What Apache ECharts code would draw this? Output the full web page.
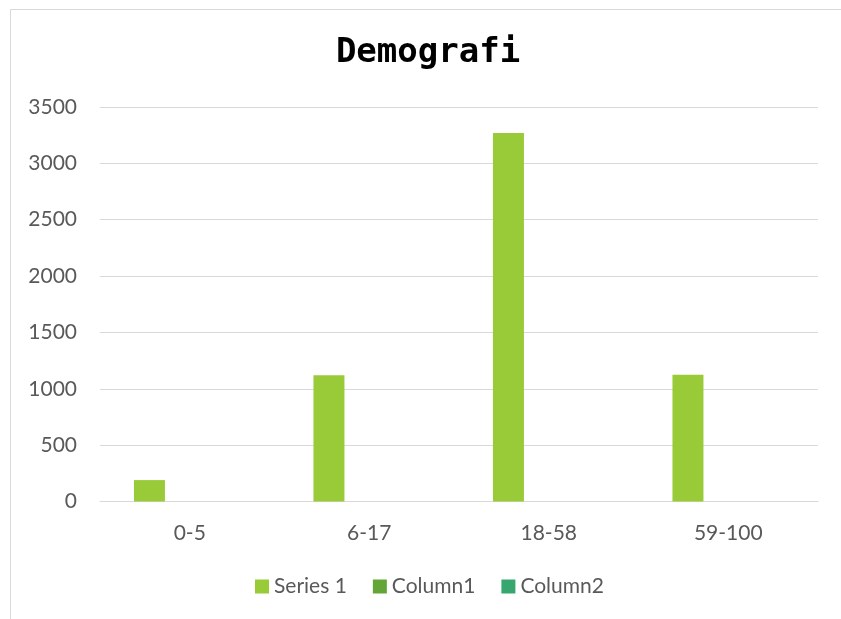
<!DOCTYPE html>
<html>
<head>
<meta charset="utf-8">
<script src="https://cdn.jsdelivr.net/npm/echarts@6/dist/echarts.min.js"></script>
<style>
html,body{margin:0;padding:0;background:#fff;}
#c{width:841px;height:619px;}
</style>
</head>
<body>
<div id="c"></div>
<script>
var categories = ['0-5', '6-17', '18-58', '59-100'];
var series1 = [190, 1120, 3270, 1125];
var column1 = [null, null, null, null];
var column2 = [null, null, null, null];
var seriesNames = ['Series 1', 'Column1', 'Column2'];
var colors = ['#99CB38', '#63A537', '#37A76F'];

var chart = echarts.init(document.getElementById('c'), null, {renderer: 'canvas'});
var font = 'Lato, "Open Sans", sans-serif';
chart.setOption({
  animation: false,
  color: colors,
  graphic: [{
    type: 'rect',
    shape: {x: 10.5, y: 9.5, width: 900, height: 700},
    style: {fill: 'none', stroke: '#d9d9d9', lineWidth: 1},
    silent: true
  }],
  title: {
    text: 'Demografi',
    left: 423,
    textAlign: 'center',
    top: 31,
    textStyle: {fontFamily: '"DejaVu Sans Mono", monospace', fontWeight: 'bold', fontSize: 34, color: '#000'}
  },
  legend: {
    data: seriesNames,
    bottom: 17,
    left: 250,
    itemWidth: 14,
    itemHeight: 14,
    itemGap: 26,
    icon: 'rect',
    textStyle: {fontFamily: font, fontSize: 21, color: '#595959'}
  },
  grid: {left: 100, right: 23, top: 107, bottom: 117.5, containLabel: false},
  xAxis: {
    type: 'category',
    data: categories,
    axisLine: {lineStyle: {color: '#d9d9d9', width: 1}},
    axisTick: {show: false},
    axisLabel: {fontFamily: font, fontSize: 21, color: '#595959', margin: 21}
  },
  yAxis: {
    type: 'value',
    min: 0,
    max: 3500,
    interval: 500,
    axisLine: {show: false},
    axisTick: {show: false},
    splitLine: {lineStyle: {color: '#d9d9d9', width: 1}},
    axisLabel: {fontFamily: font, fontSize: 21, color: '#595959', margin: 23, formatter: function (v) { return String(v); }}
  },
  series: [
    {name: seriesNames[0], type: 'bar', data: series1, barWidth: 31, barGap: '30%'},
    {name: seriesNames[1], type: 'bar', data: column1, barWidth: 31, barGap: '30%'},
    {name: seriesNames[2], type: 'bar', data: column2, barWidth: 31, barGap: '30%'}
  ]
});
</script>
</body>
</html>
